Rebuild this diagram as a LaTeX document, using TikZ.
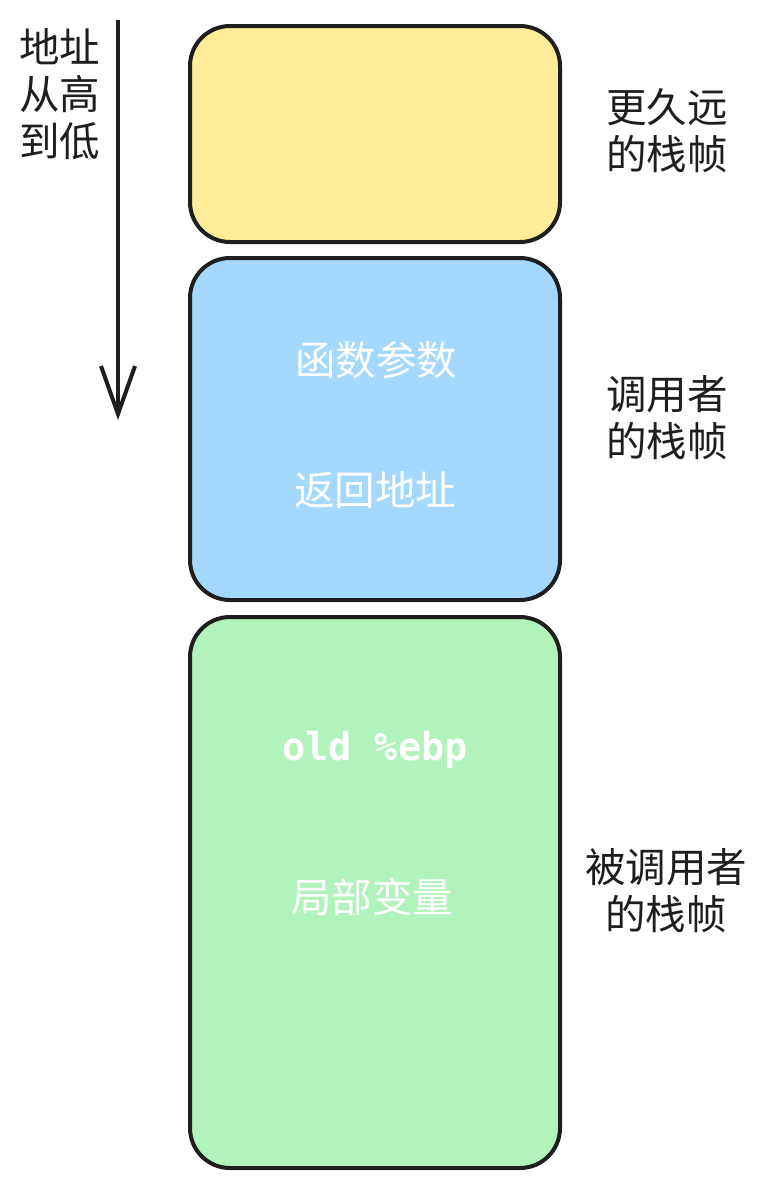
\documentclass[tikz,border=0pt]{standalone}
\usepackage{fontspec}
\setmainfont{Noto Sans CJK SC}
\setmonofont{DejaVu Sans Mono}
\usetikzlibrary{arrows.meta}
\definecolor{ink}{HTML}{1E1E1E}
\definecolor{farfill}{HTML}{FFEC99}
\definecolor{callerfill}{HTML}{A5D8FF}
\definecolor{calleefill}{HTML}{B2F2BB}

\begin{document}
\begin{tikzpicture}[x=1pt,y=-1pt,>={Straight Barb[length=48pt,width=34pt]},
  frame/.style={draw=ink,line width=4pt,rounded corners=40pt,minimum width=370pt,inner sep=0pt},
  side/.style={align=center,font=\fontsize{40.5}{47}\selectfont,text=ink},
  inbox/.style={font=\fontsize{40.5}{44}\selectfont,text=white}]
\useasboundingbox (0,0) rectangle (766,1187);
% stack frames
\node[frame,fill=farfill,minimum height=216pt] (far) at (375,134) {};
\node[frame,fill=callerfill,minimum height=342pt] (caller) at (375,429) {};
\node[frame,fill=calleefill,minimum height=551pt] (callee) at (375,892.5) {};
% contents
\node[inbox] (args) at (376,360) {函数参数};
\node[inbox] (ret) at (375,490) {返回地址};
\node[inbox,font=\ttfamily\bfseries\fontsize{38.5}{44}\selectfont] (ebp) at (375,750) {old \%ebp};
\node[inbox] (locals) at (372,897) {局部变量};
% labels
\node[side] (farlbl) at (667,131) {更久远\\的栈帧};
\node[side] (callerlbl) at (667,418) {调用者\\的栈帧};
\node[side] (calleelbl) at (666,891) {被调用者\\的栈帧};
\node[side] (dir) at (60,94) {地址\\从高\\到低};
% direction arrow
\coordinate (top) at (118,20);
\coordinate (bottom) at (118,420);
\draw[->,ink,line width=4pt] (top) -- (bottom);
\end{tikzpicture}
\end{document}
